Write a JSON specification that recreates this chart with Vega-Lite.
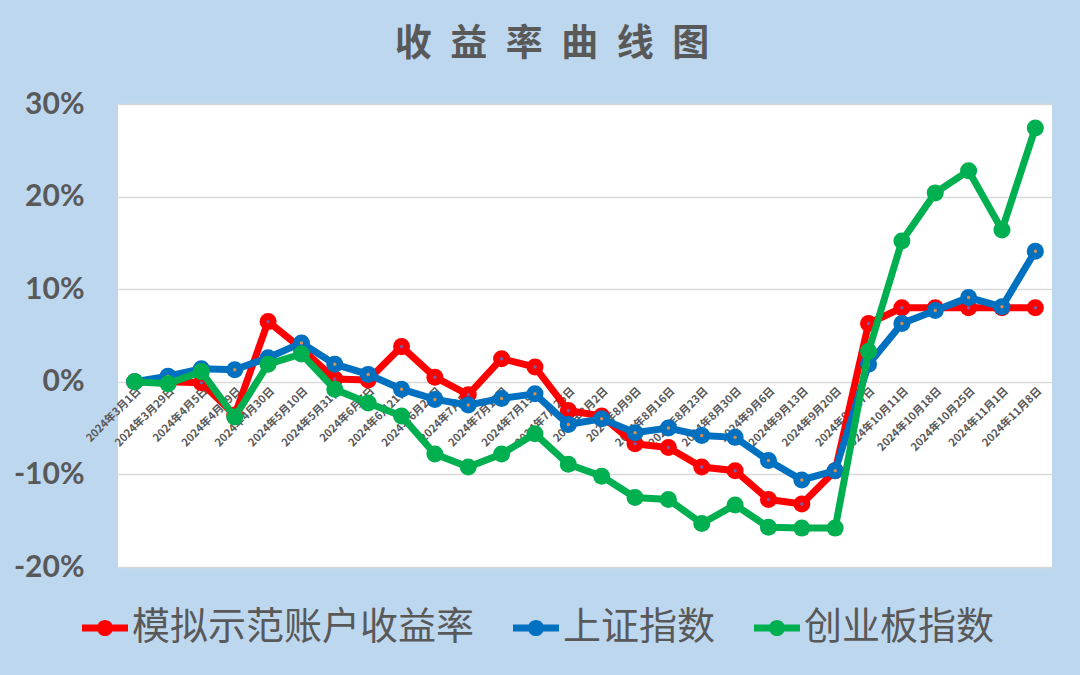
{
  "$schema": "https://vega.github.io/schema/vega-lite/v6.json",
  "width": 934,
  "height": 463,
  "autosize": {"type": "none"},
  "padding": {"left": 118, "top": 104, "right": 28, "bottom": 108},
  "background": "#BDD7EE",
  "view": {"fill": "#FFFFFF", "stroke": null},
  "title": {
    "text": "收\u2002益\u2002率\u2002曲\u2002线\u2002图",
    "font": "Noto Sans CJK SC",
    "fontSize": 37,
    "fontWeight": "bold",
    "color": "#595959",
    "anchor": "middle",
    "dx": -33,
    "offset": 25
  },
  "datasets": {
    "d": [
      {"d": "2024年3月1日", "s": "模拟示范账户收益率", "v": 0},
      {"d": "2024年3月29日", "s": "模拟示范账户收益率", "v": 0},
      {"d": "2024年4月5日", "s": "模拟示范账户收益率", "v": -0.1},
      {"d": "2024年4月19日", "s": "模拟示范账户收益率", "v": -3.6},
      {"d": "2024年4月30日", "s": "模拟示范账户收益率", "v": 6.5},
      {"d": "2024年5月10日", "s": "模拟示范账户收益率", "v": 3.6},
      {"d": "2024年5月31日", "s": "模拟示范账户收益率", "v": 0.3},
      {"d": "2024年6月7日", "s": "模拟示范账户收益率", "v": 0.2},
      {"d": "2024年6月21日", "s": "模拟示范账户收益率", "v": 3.8},
      {"d": "2024年6月28日", "s": "模拟示范账户收益率", "v": 0.5},
      {"d": "2024年7月5日", "s": "模拟示范账户收益率", "v": -1.4},
      {"d": "2024年7月12日", "s": "模拟示范账户收益率", "v": 2.5},
      {"d": "2024年7月19日", "s": "模拟示范账户收益率", "v": 1.6},
      {"d": "2024年7月26日", "s": "模拟示范账户收益率", "v": -3.1},
      {"d": "2024年8月2日", "s": "模拟示范账户收益率", "v": -3.7},
      {"d": "2024年8月9日", "s": "模拟示范账户收益率", "v": -6.7},
      {"d": "2024年8月16日", "s": "模拟示范账户收益率", "v": -7.1},
      {"d": "2024年8月23日", "s": "模拟示范账户收益率", "v": -9.2},
      {"d": "2024年8月30日", "s": "模拟示范账户收益率", "v": -9.6},
      {"d": "2024年9月6日", "s": "模拟示范账户收益率", "v": -12.7},
      {"d": "2024年9月13日", "s": "模拟示范账户收益率", "v": -13.2},
      {"d": "2024年9月20日", "s": "模拟示范账户收益率", "v": -9.6},
      {"d": "2024年9月27日", "s": "模拟示范账户收益率", "v": 6.3},
      {"d": "2024年10月11日", "s": "模拟示范账户收益率", "v": 8.0},
      {"d": "2024年10月18日", "s": "模拟示范账户收益率", "v": 8.0},
      {"d": "2024年10月25日", "s": "模拟示范账户收益率", "v": 8.0},
      {"d": "2024年11月1日", "s": "模拟示范账户收益率", "v": 8.0},
      {"d": "2024年11月8日", "s": "模拟示范账户收益率", "v": 8.0},
      {"d": "2024年3月1日", "s": "上证指数", "v": 0},
      {"d": "2024年3月29日", "s": "上证指数", "v": 0.6},
      {"d": "2024年4月5日", "s": "上证指数", "v": 1.4},
      {"d": "2024年4月19日", "s": "上证指数", "v": 1.3},
      {"d": "2024年4月30日", "s": "上证指数", "v": 2.6},
      {"d": "2024年5月10日", "s": "上证指数", "v": 4.2},
      {"d": "2024年5月31日", "s": "上证指数", "v": 1.9},
      {"d": "2024年6月7日", "s": "上证指数", "v": 0.8},
      {"d": "2024年6月21日", "s": "上证指数", "v": -0.8},
      {"d": "2024年6月28日", "s": "上证指数", "v": -1.9},
      {"d": "2024年7月5日", "s": "上证指数", "v": -2.5},
      {"d": "2024年7月12日", "s": "上证指数", "v": -1.8},
      {"d": "2024年7月19日", "s": "上证指数", "v": -1.3},
      {"d": "2024年7月26日", "s": "上证指数", "v": -4.6},
      {"d": "2024年8月2日", "s": "上证指数", "v": -4.0},
      {"d": "2024年8月9日", "s": "上证指数", "v": -5.5},
      {"d": "2024年8月16日", "s": "上证指数", "v": -5.0},
      {"d": "2024年8月23日", "s": "上证指数", "v": -5.8},
      {"d": "2024年8月30日", "s": "上证指数", "v": -6.0},
      {"d": "2024年9月6日", "s": "上证指数", "v": -8.5},
      {"d": "2024年9月13日", "s": "上证指数", "v": -10.6},
      {"d": "2024年9月20日", "s": "上证指数", "v": -9.6},
      {"d": "2024年9月27日", "s": "上证指数", "v": 1.9},
      {"d": "2024年10月11日", "s": "上证指数", "v": 6.3},
      {"d": "2024年10月18日", "s": "上证指数", "v": 7.7},
      {"d": "2024年10月25日", "s": "上证指数", "v": 9.1},
      {"d": "2024年11月1日", "s": "上证指数", "v": 8.1},
      {"d": "2024年11月8日", "s": "上证指数", "v": 14.1},
      {"d": "2024年3月1日", "s": "创业板指数", "v": 0},
      {"d": "2024年3月29日", "s": "创业板指数", "v": -0.2},
      {"d": "2024年4月5日", "s": "创业板指数", "v": 1.1},
      {"d": "2024年4月19日", "s": "创业板指数", "v": -3.8},
      {"d": "2024年4月30日", "s": "创业板指数", "v": 1.9},
      {"d": "2024年5月10日", "s": "创业板指数", "v": 3.0},
      {"d": "2024年5月31日", "s": "创业板指数", "v": -0.8},
      {"d": "2024年6月7日", "s": "创业板指数", "v": -2.3},
      {"d": "2024年6月21日", "s": "创业板指数", "v": -3.7},
      {"d": "2024年6月28日", "s": "创业板指数", "v": -7.8},
      {"d": "2024年7月5日", "s": "创业板指数", "v": -9.2},
      {"d": "2024年7月12日", "s": "创业板指数", "v": -7.8},
      {"d": "2024年7月19日", "s": "创业板指数", "v": -5.6},
      {"d": "2024年7月26日", "s": "创业板指数", "v": -8.9},
      {"d": "2024年8月2日", "s": "创业板指数", "v": -10.2},
      {"d": "2024年8月9日", "s": "创业板指数", "v": -12.5},
      {"d": "2024年8月16日", "s": "创业板指数", "v": -12.7},
      {"d": "2024年8月23日", "s": "创业板指数", "v": -15.3},
      {"d": "2024年8月30日", "s": "创业板指数", "v": -13.3},
      {"d": "2024年9月6日", "s": "创业板指数", "v": -15.7},
      {"d": "2024年9月13日", "s": "创业板指数", "v": -15.8},
      {"d": "2024年9月20日", "s": "创业板指数", "v": -15.8},
      {"d": "2024年9月27日", "s": "创业板指数", "v": 3.3},
      {"d": "2024年10月11日", "s": "创业板指数", "v": 15.2},
      {"d": "2024年10月18日", "s": "创业板指数", "v": 20.4},
      {"d": "2024年10月25日", "s": "创业板指数", "v": 22.8},
      {"d": "2024年11月1日", "s": "创业板指数", "v": 16.4},
      {"d": "2024年11月8日", "s": "创业板指数", "v": 27.4}
    ]
  },
  "data": {"name": "d"},
  "encoding": {
    "x": {
      "field": "d",
      "type": "ordinal",
      "sort": null,
      "scale": {
        "type": "point",
        "padding": 0.5,
        "domain": ["2024年3月1日","2024年3月29日","2024年4月5日","2024年4月19日","2024年4月30日","2024年5月10日","2024年5月31日","2024年6月7日","2024年6月21日","2024年6月28日","2024年7月5日","2024年7月12日","2024年7月19日","2024年7月26日","2024年8月2日","2024年8月9日","2024年8月16日","2024年8月23日","2024年8月30日","2024年9月6日","2024年9月13日","2024年9月20日","2024年9月27日","2024年10月11日","2024年10月18日","2024年10月25日","2024年11月1日","2024年11月8日"]
      },
      "axis": {
        "title": null,
        "offset": -185.2,
        "domain": false,
        "ticks": false,
        "grid": false,
        "labelAngle": -45,
        "labelFont": "Noto Sans CJK SC",
        "labelFontSize": 11,
        "labelFontWeight": "bold",
        "labelColor": "#595959",
        "labelPadding": 3,
        "labelOverlap": false,
        "labelBound": false
      }
    },
    "y": {
      "field": "v",
      "type": "quantitative",
      "scale": {"domain": [-20, 30], "nice": false, "zero": false},
      "axis": {
        "title": null,
        "values": [-20, -10, 0, 10, 20, 30],
        "labelExpr": "datum.value + '%'",
        "domain": false,
        "ticks": false,
        "grid": true,
        "gridColor": "#D9D9D9",
        "gridWidth": 1.3,
        "labelFont": "Lato",
        "labelFontWeight": "bold",
        "labelFontSize": 30,
        "labelColor": "#595959",
        "labelPadding": 34
      }
    },
    "color": {
      "field": "s",
      "type": "nominal",
      "scale": {
        "domain": ["模拟示范账户收益率", "上证指数", "创业板指数"],
        "range": ["#FF0000", "#0070C0", "#00B050"]
      },
      "legend": {
        "orient": "none",
        "legendX": -36,
        "legendY": 501,
        "direction": "horizontal",
        "title": null,
        "labelFont": "Noto Sans CJK SC",
        "labelFontSize": 38,
        "labelColor": "#595959",
        "labelLimit": 0,
        "labelOffset": 4,
        "columnPadding": 38,
        "symbolType": "M-1,-0.15H1V0.15H-1Z M0.35,0A0.35,0.35 0 1,1 -0.35,0A0.35,0.35 0 1,1 0.35,0Z",
        "symbolSize": 2116,
        "symbolStrokeWidth": 0,
        "encode": {
          "symbols": {"update": {"fill": {"scale": "color", "field": "value"}, "opacity": {"value": 1}, "strokeWidth": {"value": 0}}}
        }
      }
    }
  },
  "layer": [
    {"transform": [{"filter": "datum.s === '模拟示范账户收益率'"}], "mark": {"type": "line", "strokeWidth": 7}},
    {"transform": [{"filter": "datum.s === '模拟示范账户收益率'"}], "mark": {"type": "point", "filled": true, "size": 290, "opacity": 1}},
    {"transform": [{"filter": "datum.s === '模拟示范账户收益率'"}], "mark": {"type": "point", "filled": true, "size": 12, "opacity": 1}, "encoding": {"color": {"value": "#7B5CA8"}}},
    {"transform": [{"filter": "datum.s === '上证指数'"}], "mark": {"type": "line", "strokeWidth": 7}},
    {"transform": [{"filter": "datum.s === '上证指数'"}], "mark": {"type": "point", "filled": true, "size": 290, "opacity": 1}},
    {"transform": [{"filter": "datum.s === '上证指数'"}], "mark": {"type": "point", "filled": true, "size": 12, "opacity": 1}, "encoding": {"color": {"value": "#D8904F"}}},
    {"transform": [{"filter": "datum.s === '创业板指数'"}], "mark": {"type": "line", "strokeWidth": 7}},
    {"transform": [{"filter": "datum.s === '创业板指数'"}], "mark": {"type": "point", "filled": true, "size": 290, "opacity": 1}}
  ]
}
